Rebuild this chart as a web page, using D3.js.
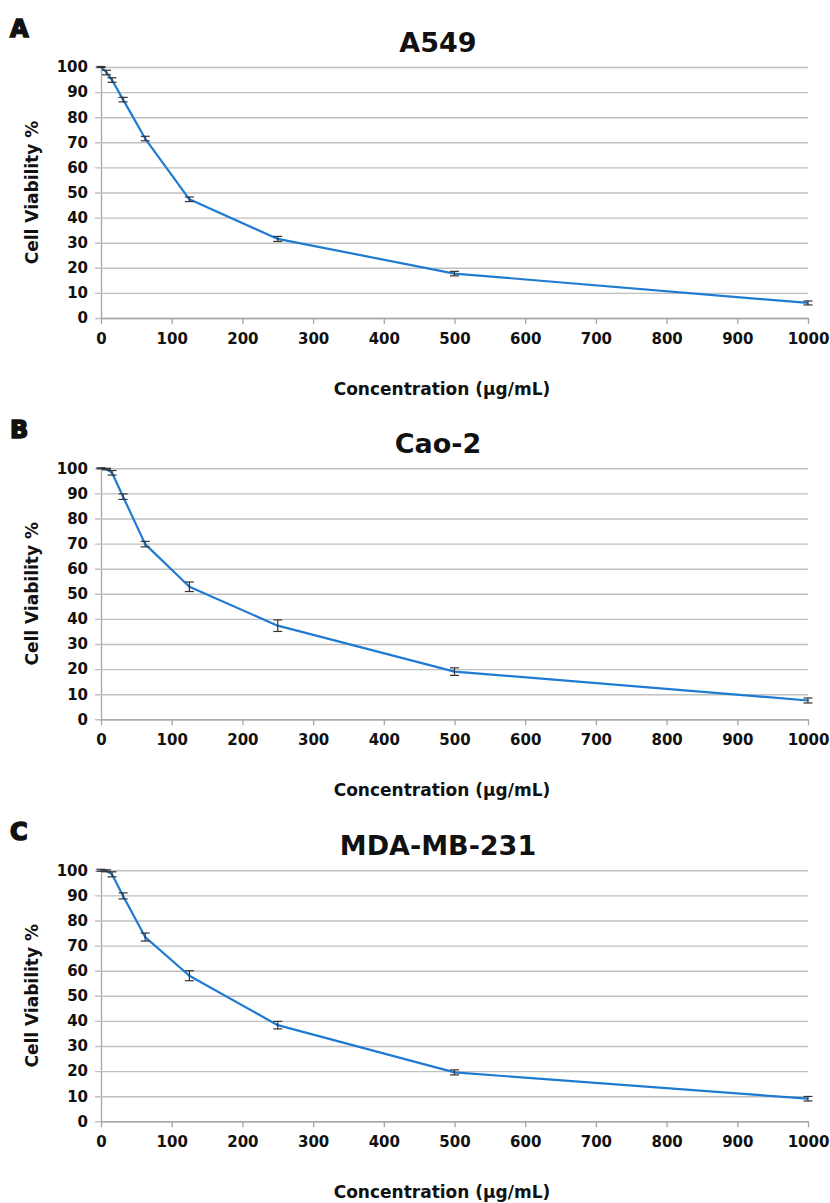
<!DOCTYPE html>
<html>
<head>
<meta charset="utf-8">
<script src="https://cdn.jsdelivr.net/npm/d3@7"></script>
<style>
  body { margin: 0; background: #fff; }
  text { font-family: "DejaVu Sans", sans-serif; font-weight: bold; fill: #111; }
</style>
</head>
<body>
<div id="chartArea"></div>
<script>
// concentrations tested (ug/mL)
var concentrations = [0, 7.8, 15.6, 31.25, 62.5, 125, 250, 500, 1000];

var a549Viability = [100, 97.8, 94.8, 87.0, 71.5, 47.3, 31.5, 17.7, 6.0];
var a549Error     = [0.2, 0.9, 0.9, 0.9, 0.9, 0.9, 1.0, 0.9, 0.8];

var caco2Viability = [100, 99.7, 98.2, 88.7, 69.8, 52.8, 37.3, 19.0, 7.5];
var caco2Error     = [0.2, 0.3, 0.9, 1.1, 1.1, 1.9, 2.3, 1.5, 1.0];

var mdaViability = [100, 99.8, 98.4, 89.8, 73.4, 58.0, 38.3, 19.5, 9.0];
var mdaError     = [0.4, 0.4, 1.0, 1.2, 1.6, 2.0, 1.5, 1.0, 0.9];

var panelLetters = ["A", "B", "C"];
var panelTitles = ["A549", "Cao-2", "MDA-MB-231"];
var xTicks = [0, 100, 200, 300, 400, 500, 600, 700, 800, 900, 1000];
var yTicks = [0, 10, 20, 30, 40, 50, 60, 70, 80, 90, 100];
var xTitle = "Concentration (\u00b5g/mL)";
var yTitle = "Cell Viability %";

var panels = [
  {letter: panelLetters[0], title: panelTitles[0], values: a549Viability, errors: a549Error, top: 67},
  {letter: panelLetters[1], title: panelTitles[1], values: caco2Viability, errors: caco2Error, top: 468.3},
  {letter: panelLetters[2], title: panelTitles[2], values: mdaViability, errors: mdaError, top: 870.3}
];

var width = 830, height = 1203;
var left = 101, right = 808, plotH = 251;
var centerX = 438;

var svg = d3.select('#chartArea').append('svg')
    .attr('width', width)
    .attr('height', height);

var xscale = d3.scaleLinear().domain([0, 1000]).range([left, right]);

panels.forEach(function(p) {
    var top = p.top, bottom = top + plotH;
    var yscale = d3.scaleLinear().domain([0, 100]).range([bottom, top]);
    var g = svg.append('g');

    // panel letter
    g.append('text')
        .attr('x', 10)
        .attr('y', top - 30)
        .style('font-size', '24px')
        .style('stroke', '#111')
        .style('stroke-width', 1.6)
        .text(p.letter);

    // title
    g.append('text')
        .attr('x', centerX)
        .attr('y', top - 15)
        .attr('text-anchor', 'middle')
        .style('font-size', '27px')
        .text(p.title);

    // y axis + gridlines
    var yAxis = g.append('g')
        .attr('transform', 'translate(' + left + ',0)')
        .call(d3.axisLeft(yscale).tickValues(yTicks).tickSizeInner(-(right - left)).tickSizeOuter(0).tickPadding(13));
    yAxis.select('.domain').attr('stroke', '#a6a6a6').attr('stroke-width', 1.3);
    yAxis.selectAll('.tick line').attr('x1', -6).attr('stroke', '#bfbfbf').attr('stroke-width', 1.4);
    yAxis.selectAll('.tick text').style('font-size', '15px').style('font-family', '"DejaVu Sans", sans-serif').style('font-weight', 'bold').attr('fill', '#111');

    // x axis
    var xAxis = g.append('g')
        .attr('transform', 'translate(0,' + bottom + ')')
        .call(d3.axisBottom(xscale).tickValues(xTicks).tickFormat(d3.format('d')).tickSizeInner(6).tickSizeOuter(0).tickPadding(9));
    xAxis.select('.domain').attr('stroke', '#a6a6a6').attr('stroke-width', 1.3);
    xAxis.selectAll('.tick line').attr('stroke', '#a6a6a6').attr('stroke-width', 1.3);
    xAxis.selectAll('.tick text').style('font-size', '15px').style('font-family', '"DejaVu Sans", sans-serif').style('font-weight', 'bold').attr('fill', '#111');

    // axis titles
    g.append('text')
        .attr('x', centerX + 4)
        .attr('y', bottom + 77)
        .attr('text-anchor', 'middle')
        .style('font-size', '17px')
        .text(xTitle);
    g.append('text')
        .attr('transform', 'translate(38,' + (top + plotH / 2) + ') rotate(-90)')
        .attr('text-anchor', 'middle')
        .style('font-size', '17px')
        .text(yTitle);

    var data = concentrations.map(function(c, i) {
        return {c: c, v: p.values[i], e: p.errors[i]};
    });

    // line
    var line = d3.line()
        .x(function(d) { return xscale(d.c); })
        .y(function(d) { return yscale(d.v); });
    g.append('path')
        .datum(data)
        .attr('d', line)
        .attr('fill', 'none')
        .attr('stroke', '#1f7bd1')
        .attr('stroke-width', 2.2)
        .attr('stroke-linejoin', 'round');

    // error bars
    var eb = g.append('g').attr('stroke', '#333').attr('stroke-width', 1.2);
    data.forEach(function(d) {
        var x = xscale(d.c), y0 = yscale(d.v - d.e), y1 = yscale(d.v + d.e);
        eb.append('line').attr('x1', x).attr('x2', x).attr('y1', y0).attr('y2', y1);
        eb.append('line').attr('x1', x - 4.5).attr('x2', x + 4.5).attr('y1', y0).attr('y2', y0);
        eb.append('line').attr('x1', x - 4.5).attr('x2', x + 4.5).attr('y1', y1).attr('y2', y1);
    });
});
</script>
</body>
</html>
